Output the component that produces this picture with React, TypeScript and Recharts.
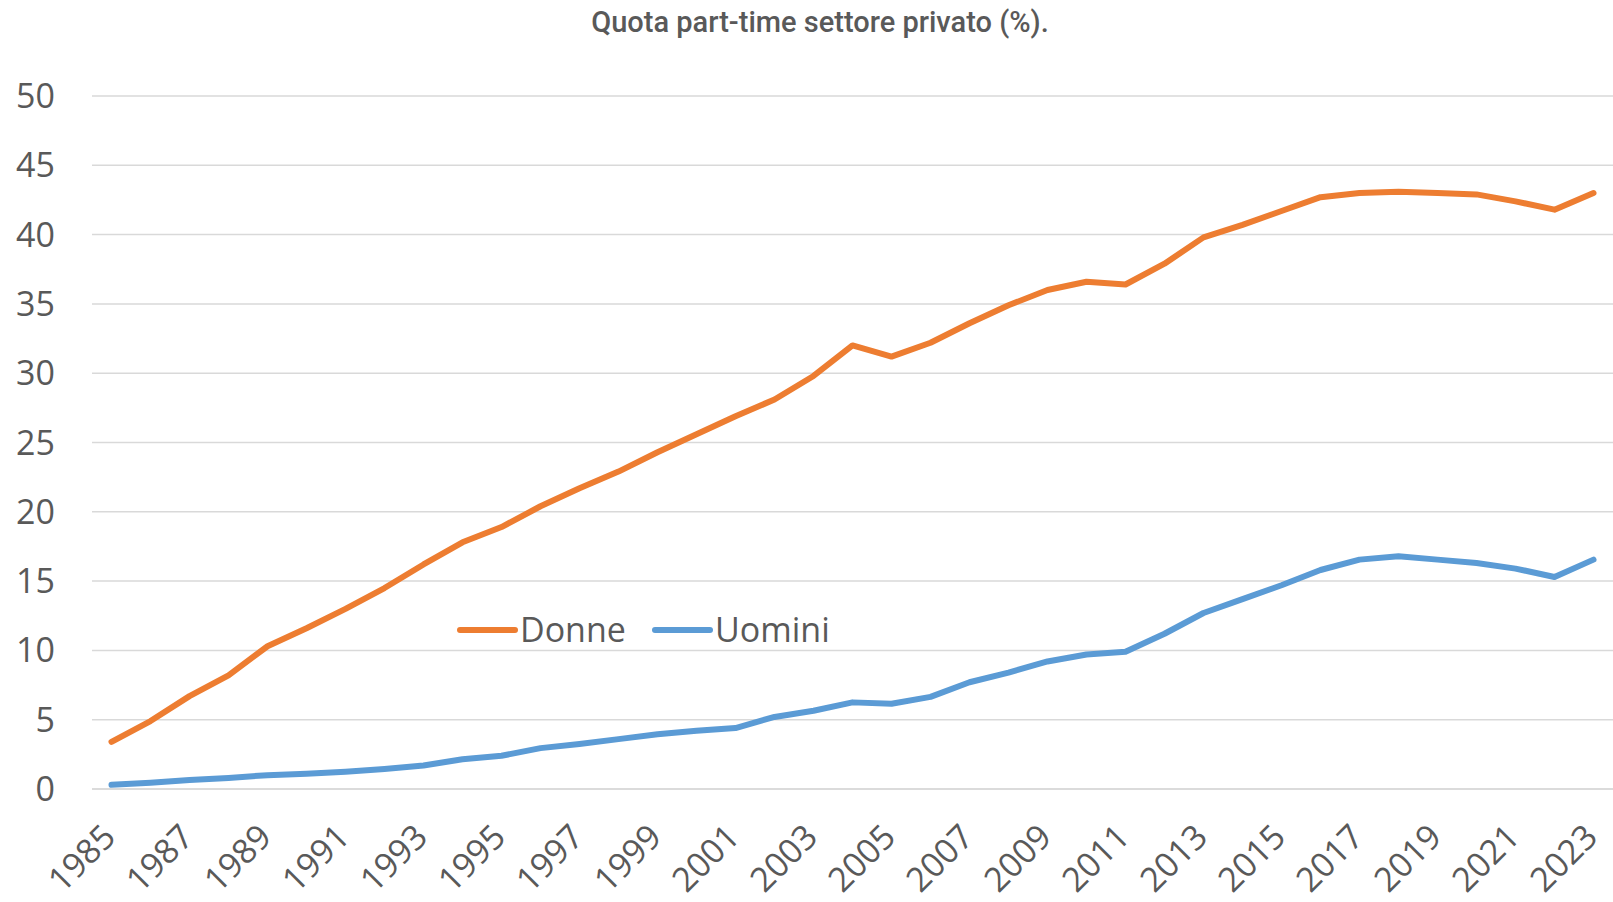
import React from 'react'
import { LineChart, Line, XAxis, YAxis, CartesianGrid, Legend } from 'recharts'

const years = [
  1985, 1986, 1987, 1988, 1989, 1990, 1991, 1992, 1993, 1994,
  1995, 1996, 1997, 1998, 1999, 2000, 2001, 2002, 2003, 2004,
  2005, 2006, 2007, 2008, 2009, 2010, 2011, 2012, 2013, 2014,
  2015, 2016, 2017, 2018, 2019, 2020, 2021, 2022, 2023,
]

const donne = [
  3.4, 4.9, 6.7, 8.2, 10.3, 11.6, 13.0, 14.5, 16.2, 17.8,
  18.9, 20.4, 21.7, 22.9, 24.3, 25.6, 26.9, 28.1, 29.8, 32.0,
  31.2, 32.2, 33.6, 34.9, 36.0, 36.6, 36.4, 37.9, 39.8, 40.7,
  41.7, 42.7, 43.0, 43.1, 43.0, 42.9, 42.4, 41.8, 43.0,
]

const uomini = [
  0.3, 0.45, 0.65, 0.8, 1.0, 1.1, 1.25, 1.45, 1.7, 2.15,
  2.4, 2.95, 3.25, 3.6, 3.95, 4.2, 4.4, 5.2, 5.65, 6.25,
  6.15, 6.65, 7.7, 8.4, 9.2, 9.7, 9.9, 11.2, 12.7, 13.7,
  14.7, 15.8, 16.55, 16.8, 16.55, 16.3, 15.9, 15.3, 16.55,
]

const yTicks = [0, 5, 10, 15, 20, 25, 30, 35, 40, 45, 50]

const data = years.map((y, i) => ({ year: String(y), Donne: donne[i], Uomini: uomini[i] }))

const FONT = '"Open Sans", sans-serif'
const GREY = '#595959'

// rotated year labels, end of text sits just right of the tick
const YearTick = ({ x, y, payload }: any) => (
  <text
    x={x + 6}
    y={y + 50}
    transform={`rotate(-45, ${x + 6}, ${y + 50})`}
    textAnchor="end"
    fontFamily={FONT}
    fontSize={34}
    fill={GREY}
  >
    {payload.value}
  </text>
)

const LegendBox = () => (
  <svg width={400} height={50}>
    <line x1={5} y1={25} x2={60} y2={25} stroke="#ED7D31" strokeWidth={6} strokeLinecap="round" />
    <text x={65} y={37} fontFamily={FONT} fontSize={34} fill={GREY}>Donne</text>
    <line x1={200} y1={25} x2={255} y2={25} stroke="#5B9BD5" strokeWidth={6} strokeLinecap="round" />
    <text x={260} y={37} fontFamily={FONT} fontSize={34} fill={GREY}>Uomini</text>
  </svg>
)

export default function App() {
  return (
    <div style={{ position: 'relative', width: 1613, height: 902, background: '#fff' }}>
      <style>{`body{margin:0}`}</style>
      <svg width={1613} height={50} style={{ position: 'absolute', left: 0, top: 0 }}>
        <text
          x={820}
          y={31.5}
          textAnchor="middle"
          fontFamily="Roboto, sans-serif"
          fontWeight={500}
          fontSize={29}
          fill={GREY}
        >
          Quota part-time settore privato (%).
        </text>
      </svg>
      <LineChart
        width={1613}
        height={902}
        data={data}
        margin={{ top: 96, right: 0, left: 0, bottom: 0 }}
      >
        <CartesianGrid vertical={false} stroke="#D9D9D9" strokeWidth={1.5} />
        <XAxis
          dataKey="year"
          interval={1}
          height={113}
          padding={{ left: 19.5, right: 19.5 }}
          axisLine={{ stroke: '#D9D9D9', strokeWidth: 1.5 }}
          tickLine={false}
          tickSize={0}
          tickMargin={0}
          tick={<YearTick />}
        />
        <YAxis
          width={92}
          domain={[0, 50]}
          ticks={yTicks}
          axisLine={false}
          tickLine={false}
          tickSize={0}
          tickMargin={37}
          tick={{ fontFamily: FONT, fontSize: 34, fill: GREY }}
        />
        <Legend
          layout="horizontal"
          verticalAlign="middle"
          align="center"
          wrapperStyle={{ left: 455, top: 605, width: 400, height: 50 }}
          content={<LegendBox />}
        />
        <Line
          dataKey="Donne"
          stroke="#ED7D31"
          strokeWidth={6}
          strokeLinecap="round"
          strokeLinejoin="round"
          dot={false}
          isAnimationActive={false}
        />
        <Line
          dataKey="Uomini"
          stroke="#5B9BD5"
          strokeWidth={6}
          strokeLinecap="round"
          strokeLinejoin="round"
          dot={false}
          isAnimationActive={false}
        />
      </LineChart>
    </div>
  )
}
